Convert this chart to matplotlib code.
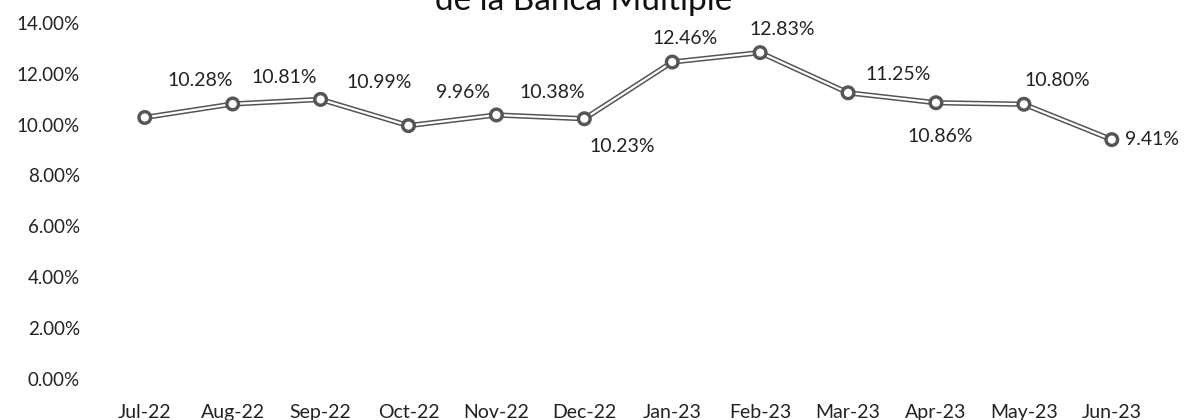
import matplotlib.pyplot as plt
import matplotlib.patheffects as pe
import numpy as np

months = ['Jul-22', 'Aug-22', 'Sep-22', 'Oct-22', 'Nov-22', 'Dec-22',
          'Jan-23', 'Feb-23', 'Mar-23', 'Apr-23', 'May-23', 'Jun-23']
values = [10.28, 10.81, 10.99, 9.96, 10.38, 10.23,
          12.46, 12.83, 11.25, 10.86, 10.80, 9.41]
yticks = [0, 2, 4, 6, 8, 10, 12, 14]

# label offsets in pixels (dx, dy)
offsets = [(55, 37), (52, 27), (59, 17), (54, 33), (56, 22), (38, -28),
           (13, 24), (22, 23), (50, 18), (4, -34), (33, 24), (40, 0)]

plt.rcParams['font.family'] = ['Lato', 'DejaVu Sans']

fig = plt.figure(figsize=(11.86, 4.2), dpi=100)
ax = fig.add_axes([0.085, 0.0976, 0.8895, 0.848])

x = np.arange(len(months))
ax.plot(x, values, color='white', lw=1.6, marker='o', ms=7,
        mfc='white', mec='#555555', mew=1.1,
        path_effects=[pe.Stroke(linewidth=3.8, foreground='#555555'), pe.Normal()])

for xi, v, (dx, dy) in zip(x, values, offsets):
    ax.annotate(f'{v:.2f}%', (xi, v), xytext=(dx, dy), textcoords='offset pixels',
                ha='center', va='center', fontsize=14, color='#222222')

ax.set_xlim(-0.5, len(months) - 0.5)
ax.set_ylim(0, 14)
ax.set_yticks(yticks)
ax.set_yticklabels([f'{t:.2f}%' for t in yticks], fontsize=13.5, color='#222222')
ax.set_xticks(x)
ax.set_xticklabels(months, fontsize=14, color='#222222')
ax.tick_params(axis='x', length=0, pad=18)
ax.tick_params(axis='y', length=0, pad=15)
for s in ax.spines.values():
    s.set_visible(False)

fig.text(0.492, 0.976, 'de la Banca Múltiple', ha='center', va='baseline',
         fontsize=24, color='#111111')

fig.savefig('out.png', dpi=100)
